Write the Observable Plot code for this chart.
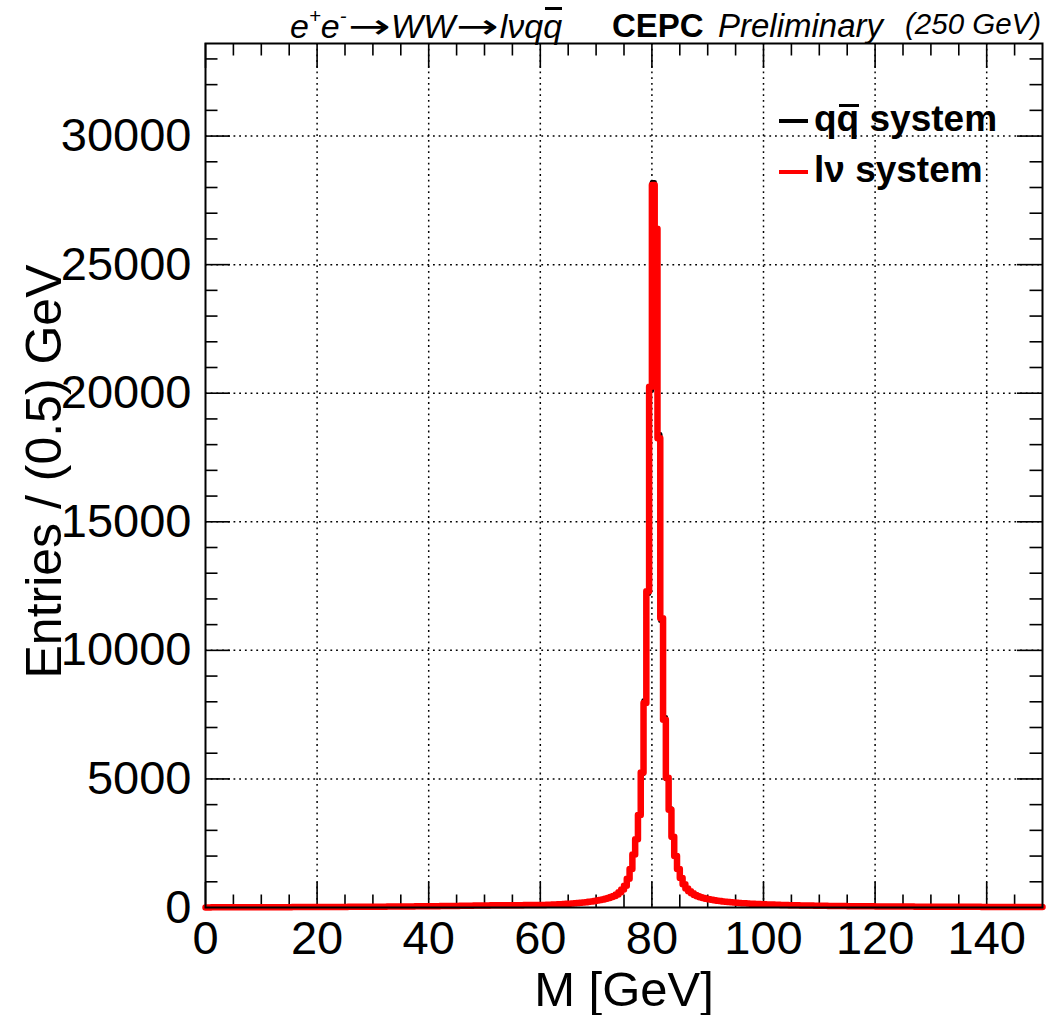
<!DOCTYPE html>
<html><head><meta charset="utf-8">
<script src="https://cdn.jsdelivr.net/npm/d3@7"></script>
<script src="https://cdn.jsdelivr.net/npm/@observablehq/plot@0.6"></script>
<style>
body{margin:0;background:#fff;}
#wrap{position:relative;width:1056px;height:1015px;font-family:"Liberation Sans",Arial,Helvetica,sans-serif;}
.t{position:absolute;white-space:nowrap;color:#000;line-height:1;}
.sup{font-size:0.6em;position:relative;top:-0.75em;}
.bar{display:inline-block;position:relative;}
.bar::before{content:"";position:absolute;left:10%;right:0;top:var(--bt);height:var(--bh);background:#000;}
.arr{display:inline-block;font-family:"DejaVu Sans";font-style:normal;transform:scaleX(1.5);margin:0 8px;}
.dash{position:absolute;height:4px;}
</style></head><body><div id="wrap"></div>
<script>
// histogram: 0.5 GeV bins from 0 to 150 GeV
const binStart = 0;
const binWidth = 0.5;
// l nu system (red)
const lvCounts = [
  4,4,5,5,5,6,6,6,7,7,7,8,8,8,9,9,9,10,10,10,
  11,11,11,12,12,12,13,13,14,14,14,15,15,16,16,17,17,17,18,18,
  19,19,20,20,21,21,22,22,23,24,24,25,25,26,27,27,28,29,29,30,
  31,31,32,33,34,35,35,36,37,38,39,40,41,42,43,44,45,46,47,48,
  49,50,51,53,54,55,57,58,60,61,63,64,66,68,69,71,73,75,77,79,
  81,82,83,84,85,86,87,88,89,89,90,91,91,92,93,93,94,95,95,96,
  97,101,105,109,114,119,124,130,136,143,150,158,166,175,185,196,208,221,236,252,
  270,290,312,338,368,405,450,510,590,700,850,1120,1500,2060,2650,3600,5250,7950,12300,20250,
  28100,26400,18250,11250,7300,5050,3800,2750,2000,1500,1150,900,740,630,550,490,442,402,370,342,
  318,297,279,263,248,235,223,212,202,193,184,176,169,162,156,150,144,139,134,129,
  126,121,117,113,109,105,101,98,95,92,89,86,84,81,79,77,75,73,71,69,
  67,65,64,62,61,59,58,57,55,54,53,52,51,50,49,48,47,46,45,44,
  43,43,42,41,40,40,39,38,38,37,36,36,35,35,34,34,33,33,32,32,
  31,31,30,30,29,29,29,28,28,27,27,27,26,26,26,25,25,25,24,24,
  24,23,23,23,22,22,22,21,21,21,21,20,20,20,19,19,19,19,18,18
];
// q qbar system (black)
const qqCounts = [
  4,5,5,5,6,6,6,7,7,7,8,8,8,9,9,9,10,10,10,11,
  11,11,12,12,12,13,13,14,14,14,15,15,16,16,17,17,17,18,18,19,
  19,20,20,21,21,22,22,23,23,24,25,25,26,26,27,28,28,29,30,30,
  31,32,32,33,34,35,36,36,37,38,39,40,41,42,43,44,45,46,47,49,
  50,51,52,53,54,56,57,59,60,62,63,65,66,68,70,71,73,75,77,79,
  80,82,83,84,85,86,87,88,88,89,90,90,91,92,92,93,94,94,95,96,
  98,100,104,110,113,120,125,129,137,142,151,157,167,174,186,195,209,220,237,251,
  268,292,310,340,366,408,448,515,585,705,845,1130,1490,2080,2630,3620,5200,8050,12200,20100,
  28200,26150,18400,11150,7400,5000,3850,2720,2030,1480,1160,890,750,620,555,485,445,398,372,340,
  320,295,281,262,249,234,224,211,203,192,185,175,170,161,157,149,145,138,135,128,
  125,122,116,114,108,106,100,99,94,93,88,87,83,82,78,78,74,74,70,70,
  66,66,63,63,60,60,57,57,55,54,53,52,51,50,49,48,47,46,45,44,
  43,42,42,41,40,39,39,38,38,37,36,36,35,34,34,34,33,33,32,32,
  31,30,30,30,29,29,28,28,28,27,27,26,26,26,25,25,25,24,24,24,
  23,23,23,22,22,22,21,21,21,21,20,20,20,19,19,19,19,18,18,18
];
const xDomain = [0, 150];
const yDomain = [0, 33600];
const xMajorTicks = [0, 20, 40, 60, 80, 100, 120, 140];
const xMinorTicks = [5,10,15,25,30,35,45,50,55,65,70,75,85,90,95,105,110,115,125,130,135,145];
const yMajorTicks = [0, 5000, 10000, 15000, 20000, 25000, 30000];
const yMinorTicks = [1000,2000,3000,4000,6000,7000,8000,9000,11000,12000,13000,14000,16000,17000,18000,19000,21000,22000,23000,24000,26000,27000,28000,29000,31000,32000,33000];
const xGrid = [20, 40, 60, 80, 100, 120, 140];
const yGrid = [5000, 10000, 15000, 20000, 25000, 30000];
const xTitle = "M [GeV]";
const yTitle = "Entries / (0.5) GeV";

function toSteps(counts) {
  const rows = counts.map((v, i) => ({m: binStart + i * binWidth, n: v}));
  rows.push({m: binStart + counts.length * binWidth, n: counts[counts.length - 1]});
  return rows;
}
const lvData = toSteps(lvCounts);
const qqData = toSteps(qqCounts);

const W = 1056, H = 1015;
const mL = 205, mR = 14, mT = 43, mB = 108;
const fw = W - mL - mR, fh = H - mT - mB;
const majLen = 25, minLen = 12.5;
const tickStyle = {stroke: "#000", strokeWidth: 1.6};
const gridStyle = {stroke: "#000", strokeWidth: 1.5, strokeDasharray: "1.8,3.9"};

const chart = Plot.plot({
  width: W, height: H,
  marginLeft: mL, marginRight: mR, marginTop: mT, marginBottom: mB,
  style: {fontFamily: '"Liberation Sans", Arial, Helvetica, sans-serif', fontSize: "47px", color: "#000", background: "#fff"},
  x: {domain: xDomain},
  y: {domain: yDomain},
  marks: [
    Plot.ruleX(xGrid, gridStyle),
    Plot.ruleY(yGrid, gridStyle),
    Plot.ruleX(xMinorTicks, {...tickStyle, insetTop: fh - minLen}),
    Plot.ruleX(xMajorTicks, {...tickStyle, insetTop: fh - majLen}),
    Plot.ruleX(xMinorTicks, {...tickStyle, insetBottom: fh - minLen}),
    Plot.ruleX(xMajorTicks, {...tickStyle, insetBottom: fh - majLen}),
    Plot.ruleY(yMinorTicks, {...tickStyle, insetRight: fw - minLen}),
    Plot.ruleY(yMajorTicks, {...tickStyle, insetRight: fw - majLen}),
    Plot.ruleY(yMinorTicks, {...tickStyle, insetLeft: fw - minLen}),
    Plot.ruleY(yMajorTicks, {...tickStyle, insetLeft: fw - majLen}),
    Plot.axisX(xMajorTicks, {anchor: "bottom", tickSize: 0, tickPadding: 13, label: null, fontSize: 47}),
    Plot.axisY(yMajorTicks, {anchor: "left", tickSize: 0, tickPadding: 14, label: null, fontSize: 47, tickFormat: d3.format("d")}),
    Plot.line(qqData, {x: "m", y: "n", curve: "step-after", stroke: "#000", strokeWidth: 4.5}),
    Plot.line(lvData, {x: "m", y: "n", curve: "step-after", stroke: "#ff0000", strokeWidth: 6.5}),
    Plot.frame({stroke: "#000", strokeWidth: 2}),
    Plot.text([xTitle], {frameAnchor: "bottom", dy: 83, fontSize: 49, lineAnchor: "middle"}),
    Plot.text([yTitle], {frameAnchor: "left", rotate: -90, dx: -161, dy: -4, fontSize: 50, lineAnchor: "middle", textAnchor: "middle"})
  ]
});
const wrap = document.getElementById("wrap");
wrap.appendChild(chart);

function addText(html, left, baseline, size, style) {
  const d = document.createElement("div");
  d.className = "t";
  d.innerHTML = html;
  d.style.left = left + "px";
  d.style.top = (baseline - 0.8465 * size) + "px";
  d.style.fontSize = size + "px";
  if (style) d.style.cssText += style;
  wrap.appendChild(d);
}
addText('e<span class="sup">+</span>e<span class="sup">-</span><span class="arr">→</span>WW<span class="arr">→</span>lνq<span class="bar" style="--bt:-2px;--bh:2.5px">q</span>', 290, 38, 34, "font-style:italic;");
addText('CEPC', 612, 37, 33, "font-weight:bold;");
addText('Preliminary', 718, 37, 33, "font-style:italic;");
addText('(250 GeV)', 905, 34, 29.5, "font-style:italic;");
// legend
const legendLabels = ['q<span class="bar" style="--bt:3.5px;--bh:3px">q</span> system', 'lν system'];
const legendColors = ["#000", "#ff0000"];
const legendBase = [131.5, 182];
legendLabels.forEach((lab, i) => {
  const ln = document.createElement("div");
  ln.className = "dash";
  ln.style.left = "779px"; ln.style.width = "29px";
  ln.style.top = (legendBase[i] - 12.5) + "px";
  ln.style.background = legendColors[i];
  wrap.appendChild(ln);
  addText(lab, 814, legendBase[i], 37, "font-weight:bold;");
});
</script></body></html>
